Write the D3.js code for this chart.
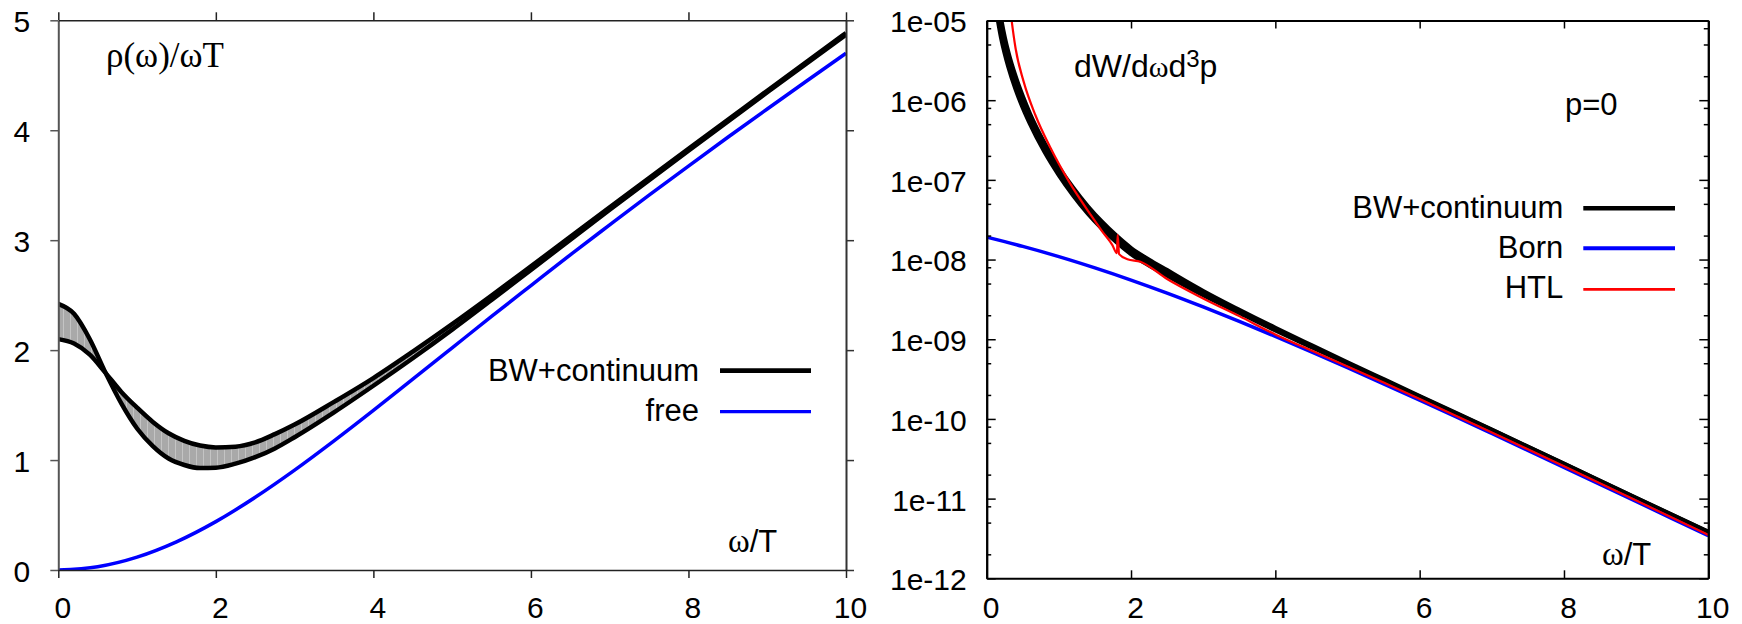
<!DOCTYPE html>
<html>
<head>
<meta charset="utf-8">
<script src="https://cdn.jsdelivr.net/npm/d3@7"></script>
<style>
  body { margin: 0; background: #fff; }
  svg { display: block; background: #fff; }
  text { font-family: "Liberation Sans", Arial, Helvetica, sans-serif; fill: #000; }
  .serif { font-family: "Liberation Serif", "Times New Roman", serif; }
</style>
</head>
<body>
<svg id="chart" width="1742" height="624"></svg>
<script>
// ---------- left panel: rho(omega)/(omega T) ----------
const omegaBand = [0, 0.2, 0.4, 0.6, 0.8, 1.0, 1.2, 1.4, 1.6, 1.8, 2.0, 2.25, 2.5, 2.75, 3.0, 3.5, 4.0, 4.5, 5.0, 5.5, 6.0, 7.0, 8.0, 9.0, 10];
const rhoBandA  = [2.42, 2.330, 2.099, 1.793, 1.515, 1.287, 1.127, 1.014, 0.955, 0.927, 0.930, 0.967, 1.026, 1.106, 1.208, 1.434, 1.676, 1.926, 2.186, 2.456, 2.730, 3.277, 3.814, 4.345, 4.870];
const rhoBandB  = [2.10, 2.060, 1.959, 1.793, 1.620, 1.477, 1.347, 1.244, 1.175, 1.132, 1.115, 1.122, 1.161, 1.236, 1.323, 1.529, 1.746, 1.986, 2.236, 2.496, 2.762, 3.299, 3.832, 4.359, 4.885];

const omegaFree = [0, 0.5, 1.0, 1.5, 2.0, 2.5, 3.0, 3.5, 4.0, 4.5, 5.0, 5.5, 6.0, 6.5, 7.0, 7.5, 8.0, 8.5, 9.0, 9.5, 10];
const rhoFree   = [0, 0.030, 0.117, 0.256, 0.440, 0.661, 0.908, 1.174, 1.451, 1.736, 2.021, 2.306, 2.587, 2.867, 3.139, 3.409, 3.674, 3.936, 4.193, 4.448, 4.700];

// ---------- right panel: dilepton rate dW/d omega d^3p at p=0 ----------
const omegaRate  = [0.15, 0.2, 0.25, 0.3, 0.4, 0.5, 0.6, 0.8, 1.0, 1.2, 1.4, 1.6, 1.8, 2.0, 2.25, 2.5, 2.75, 3.0, 3.5, 4.0, 4.5, 5.0, 5.5, 6.0, 7.0, 8.0, 9.0, 10];
const rateBandHi = [1.956e-5, 1.022e-5, 6.05e-6, 3.926e-6, 1.965e-6, 1.107e-6, 6.69e-7, 2.892e-7, 1.4355e-7, 7.87e-8, 4.645e-8, 2.945e-8, 1.973e-8, 1.389e-8, 9.93e-9, 7.33e-9, 5.40e-9, 4.02e-9, 2.330e-9, 1.384e-9, 8.39e-10, 5.12e-10, 3.138e-10, 1.925e-10, 7.31e-11, 2.734e-11, 1.0175e-11, 3.819e-12];
const rateBandLo = [1.100e-5, 6.16e-6, 3.906e-6, 2.655e-6, 1.391e-6, 8.11e-7, 5.08e-7, 2.271e-7, 1.1535e-7, 6.40e-8, 3.819e-8, 2.449e-8, 1.656e-8, 1.177e-8, 8.45e-9, 6.29e-9, 4.72e-9, 3.58e-9, 2.150e-9, 1.297e-9, 8.01e-10, 4.96e-10, 3.067e-10, 1.894e-10, 7.25e-11, 2.715e-11, 1.0106e-11, 3.793e-12];

const omegaBorn = [0, 0.5, 1.0, 1.5, 2.0, 2.5, 3.0, 3.5, 4.0, 4.5, 5.0, 5.5, 6.0, 6.5, 7.0, 7.5, 8.0, 8.5, 9.0, 9.5, 10];
const rateBorn  = [1.91e-8, 1.464e-8, 1.089e-8, 7.86e-9, 5.53e-9, 3.79e-9, 2.54e-9, 1.675e-9, 1.086e-9, 6.95e-10, 4.40e-10, 2.76e-10, 1.718e-10, 1.065e-10, 6.56e-11, 4.03e-11, 2.47e-11, 1.511e-11, 9.22e-12, 5.62e-12, 3.42e-12];

const omegaHTL = [0.29, 0.345, 0.400, 0.512, 0.674, 0.887, 1.141, 1.442, 1.60, 1.742, 1.805, 1.815, 1.835, 1.95, 2.13, 2.5, 3.0, 3.5, 4.0, 4.5, 5.0, 5.5, 6.0, 7.0, 8.0, 9.0, 10];
const rateHTL  = [2.8e-5, 1.01e-5, 4.48e-6, 1.71e-6, 6.52e-7, 2.49e-7, 9.5e-8, 3.63e-8, 2.26e-8, 1.52e-8, 1.2e-8, 2.04e-8, 1.17e-8, 1.01e-8, 9.4e-9, 5.7e-9, 3.25e-9, 1.95e-9, 1.15e-9, 7.2e-10, 4.55e-10, 2.86e-10, 1.78e-10, 6.77e-11, 2.54e-11, 9.45e-12, 3.5e-12];

// ---------- ticks ----------
const xTicks = [0, 2, 4, 6, 8, 10];
const yTicksLeft = [0, 1, 2, 3, 4, 5];
const yTicksRight = [1e-5, 1e-6, 1e-7, 1e-8, 1e-9, 1e-10, 1e-11, 1e-12];
const yTickLabelsRight = ["1e-05", "1e-06", "1e-07", "1e-08", "1e-09", "1e-10", "1e-11", "1e-12"];
const minorMantissas = [2, 5, 8];

const svg = d3.select("#chart");
const defs = svg.append("defs");

// grey fill with faint vertical seams for the band
const pat = defs.append("pattern").attr("id", "bandFill")
  .attr("patternUnits", "userSpaceOnUse").attr("width", 7).attr("height", 10);
pat.append("rect").attr("width", 7).attr("height", 10).attr("fill", "#a9a9a9");
pat.append("rect").attr("width", 1).attr("height", 10).attr("fill", "#c4c4c4");

const smooth = d3.line().curve(d3.curveMonotoneX);

function styleAxis(g, color, width) {
  g.attr("font-size", null).attr("font-family", null);
  g.select(".domain").attr("stroke", color).attr("stroke-width", width);
  g.selectAll(".tick line").attr("stroke", color).attr("stroke-width", 1.5);
  g.selectAll(".tick text").attr("font-size", 30).attr("fill", "#000");
}

// ================= LEFT PANEL =================
const xL = d3.scaleLinear().domain([0, 10]).range([58.3, 846]);
const yL = d3.scaleLinear().domain([0, 5]).range([570, 20.3]);

defs.append("clipPath").attr("id", "clipL").append("rect")
  .attr("x", xL(0)).attr("y", yL(5)).attr("width", xL(10) - xL(0)).attr("height", yL(0) - yL(5));

const left = svg.append("g");
const plotL = left.append("g").attr("clip-path", "url(#clipL)");

const bandL = omegaBand.map((w, i) => ({ w, a: rhoBandA[i], b: rhoBandB[i] }));
plotL.append("path").datum(bandL)
  .attr("fill", "url(#bandFill)")
  .attr("d", d3.area().curve(d3.curveMonotoneX).x(d => xL(d.w)).y0(d => yL(d.a)).y1(d => yL(d.b)));
plotL.append("path").datum(bandL.map(d => [xL(d.w), yL(d.a)]))
  .attr("fill", "none").attr("stroke", "#000").attr("stroke-width", 4.5).attr("d", smooth);
plotL.append("path").datum(bandL.map(d => [xL(d.w), yL(d.b)]))
  .attr("fill", "none").attr("stroke", "#000").attr("stroke-width", 4.5).attr("d", smooth);
plotL.append("path").datum(omegaFree.map((w, i) => [xL(w), yL(rhoFree[i])]))
  .attr("fill", "none").attr("stroke", "#0000ff").attr("stroke-width", 3.5).attr("d", smooth);

// axes: ticks point outward, mirrored on all four sides
const axL = left.append("g").attr("transform", `translate(${xL(0)},0)`)
  .call(d3.axisLeft(yL).tickValues(yTicksLeft).tickSize(8).tickSizeOuter(0).tickPadding(20).tickFormat(d3.format("d")));
styleAxis(axL, "#555", 2);
axL.selectAll(".tick text").attr("dy", "0.38em");

const axLR = left.append("g").attr("transform", `translate(${xL(10)},0)`)
  .call(d3.axisRight(yL).tickValues(yTicksLeft).tickSize(8).tickSizeOuter(0).tickFormat(""));
styleAxis(axLR, "#333", 2);

const axLB = left.append("g").attr("transform", `translate(0,${yL(0)})`)
  .call(d3.axisBottom(xL).tickValues(xTicks).tickSize(8).tickSizeOuter(0).tickPadding(18.5).tickFormat(d3.format("d")));
styleAxis(axLB, "#222", 1.6);
axLB.selectAll(".tick text").attr("dx", 4);

const axLT = left.append("g").attr("transform", `translate(0,${yL(5)})`)
  .call(d3.axisTop(xL).tickValues(xTicks).tickSize(8).tickSizeOuter(0).tickFormat(""));
styleAxis(axLT, "#222", 1.6);

left.append("text").attr("class", "serif").attr("x", 106).attr("y", 67).attr("font-size", 35)
  .text("ρ(ω)/ωT");
const xlabL = left.append("text").attr("x", 728).attr("y", 552).attr("font-size", 31);
xlabL.append("tspan").attr("class", "serif").attr("font-size", 33).text("ω");
xlabL.append("tspan").text("/T");

const legL = left.append("g");
[["BW+continuum", "#000", 4.7, 381, 370.7], ["free", "#0000ff", 3.3, 421, 411.7]].forEach(([lab, col, sw, ty, ly]) => {
  legL.append("text").attr("x", 699).attr("y", ty).attr("text-anchor", "end").attr("font-size", 31).text(lab);
  legL.append("line").attr("x1", 720).attr("x2", 811).attr("y1", ly).attr("y2", ly)
    .attr("stroke", col).attr("stroke-width", sw);
});

// ================= RIGHT PANEL =================
const xR = d3.scaleLinear().domain([0, 10]).range([986.7, 1708.3]);
const yR = d3.scaleLog().domain([1e-12, 1e-5]).range([578.3, 20.5]);

defs.append("clipPath").attr("id", "clipR").append("rect")
  .attr("x", xR(0)).attr("y", yR(1e-5)).attr("width", xR(10) - xR(0)).attr("height", yR(1e-12) - yR(1e-5));

const right = svg.append("g");
const plotR = right.append("g").attr("clip-path", "url(#clipR)");

const bandR = omegaRate.map((w, i) => ({ w, hi: rateBandHi[i], lo: rateBandLo[i] }));
plotR.append("path").datum(bandR)
  .attr("fill", "#000")
  .attr("d", d3.area().curve(d3.curveMonotoneX).x(d => xR(d.w)).y0(d => yR(d.lo)).y1(d => yR(d.hi)));
plotR.append("path").datum(bandR.map(d => [xR(d.w), yR(d.hi)]))
  .attr("fill", "none").attr("stroke", "#000").attr("stroke-width", 4.5).attr("d", smooth);
plotR.append("path").datum(bandR.map(d => [xR(d.w), yR(d.lo)]))
  .attr("fill", "none").attr("stroke", "#000").attr("stroke-width", 4.5).attr("d", smooth);
plotR.append("path").datum(omegaBorn.map((w, i) => [xR(w), yR(rateBorn[i])]))
  .attr("fill", "none").attr("stroke", "#0000ff").attr("stroke-width", 3.5).attr("d", smooth);
plotR.append("path").datum(omegaHTL.map((w, i) => [xR(w), yR(rateHTL[i])]))
  .attr("fill", "none").attr("stroke", "#ff0000").attr("stroke-width", 2.2)
  .attr("stroke-linejoin", "miter").attr("d", smooth);

// minor log ticks at 2, 5 and 8 of each decade
const minorR = [];
for (let e = -12; e < -5; e++) minorMantissas.forEach(m => minorR.push(m * Math.pow(10, e)));

// axes: ticks point inward, mirrored
const axR = right.append("g").attr("transform", `translate(${xR(0)},0)`)
  .call(d3.axisLeft(yR).tickValues(yTicksRight).tickSize(-9).tickSizeOuter(0).tickPadding(20)
    .tickFormat((d, i) => yTickLabelsRight[i]));
styleAxis(axR, "#000", 2);
axR.selectAll(".tick text").attr("dy", "0.38em");
const axRm = right.append("g").attr("transform", `translate(${xR(0)},0)`)
  .call(d3.axisLeft(yR).tickValues(minorR).tickSize(-4.5).tickSizeOuter(0).tickFormat(""));
styleAxis(axRm, "#000", 2);

const axRR = right.append("g").attr("transform", `translate(${xR(10)},0)`)
  .call(d3.axisRight(yR).tickValues(yTicksRight).tickSize(-9).tickSizeOuter(0).tickFormat(""));
styleAxis(axRR, "#000", 2);
const axRRm = right.append("g").attr("transform", `translate(${xR(10)},0)`)
  .call(d3.axisRight(yR).tickValues(minorR).tickSize(-4.5).tickSizeOuter(0).tickFormat(""));
styleAxis(axRRm, "#000", 2);

const axRB = right.append("g").attr("transform", `translate(0,${yR(1e-12)})`)
  .call(d3.axisBottom(xR).tickValues(xTicks).tickSize(-8).tickSizeOuter(0).tickPadding(18).tickFormat(d3.format("d")));
styleAxis(axRB, "#000", 2);
axRB.selectAll(".tick text").attr("dx", 4);

const axRT = right.append("g").attr("transform", `translate(0,${yR(1e-5)})`)
  .call(d3.axisTop(xR).tickValues(xTicks).tickSize(-8).tickSizeOuter(0).tickFormat(""));
styleAxis(axRT, "#000", 2);

const tR = right.append("text").attr("x", 1074).attr("y", 77.3).attr("font-size", 32);
tR.append("tspan").text("dW/d");
tR.append("tspan").attr("class", "serif").attr("font-size", 30).text("ω");
tR.append("tspan").text("d");
tR.append("tspan").attr("font-size", 24).attr("dy", -10).text("3");
tR.append("tspan").attr("dy", 10).text("p");

right.append("text").attr("x", 1565).attr("y", 115).attr("font-size", 31).text("p=0");

const xlabR = right.append("text").attr("x", 1602).attr("y", 565).attr("font-size", 31);
xlabR.append("tspan").attr("class", "serif").attr("font-size", 33).text("ω");
xlabR.append("tspan").text("/T");

const legR = right.append("g");
[["BW+continuum", "#000", 4.5, 218.3, 208.3], ["Born", "#0000ff", 4, 258.3, 248.3], ["HTL", "#ff0000", 2.7, 298.3, 289.3]]
  .forEach(([lab, col, sw, ty, ly]) => {
    legR.append("text").attr("x", 1563.3).attr("y", ty).attr("text-anchor", "end").attr("font-size", 31).text(lab);
    legR.append("line").attr("x1", 1583.3).attr("x2", 1675).attr("y1", ly).attr("y2", ly)
      .attr("stroke", col).attr("stroke-width", sw);
  });
</script>
</body>
</html>
